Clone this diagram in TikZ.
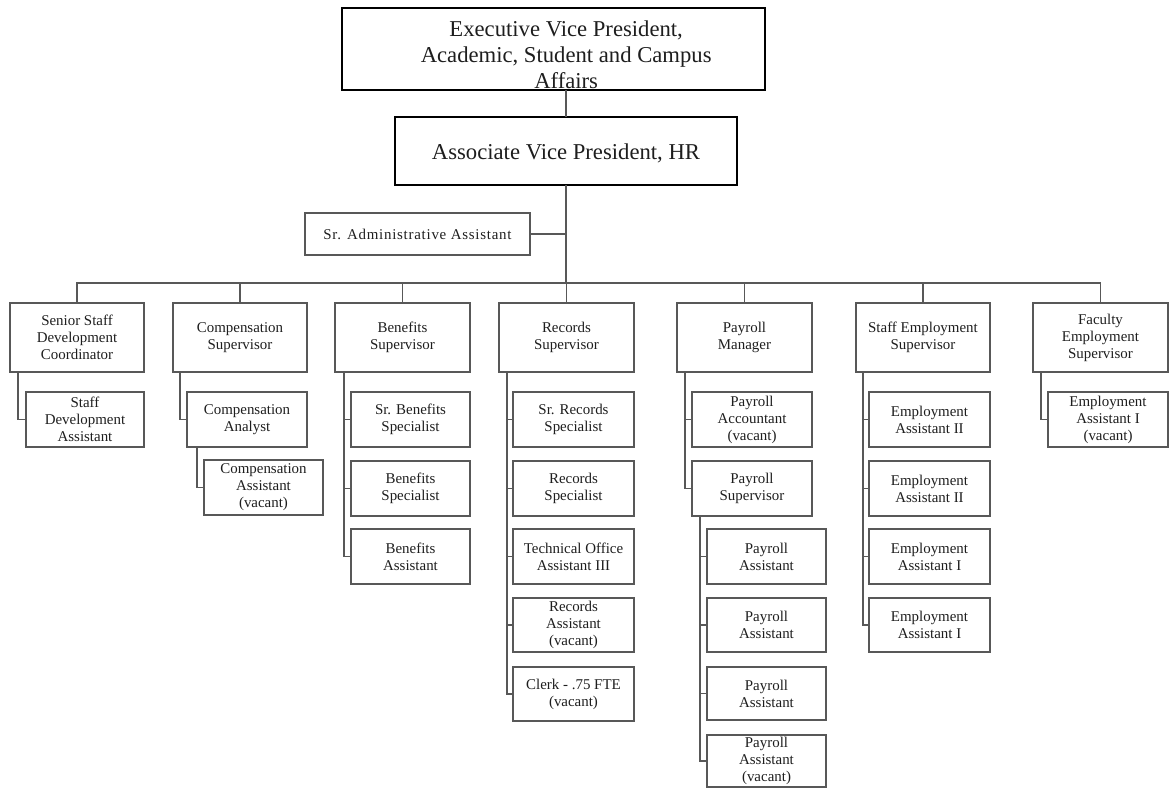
\documentclass[tikz,border=0pt]{standalone}
\usepackage{fontspec}
\setmainfont{Liberation Serif}
\usetikzlibrary{calc}
\definecolor{rulegray}{RGB}{88,88,88}
\definecolor{inkgray}{RGB}{30,30,30}
% a box given by its corners: style, x1, y1, x2, y2, name; the text follows
\newcommand\orgnode[6]{\node[#1, minimum width={(#4-#2)*0.75pt}, minimum height={(#5-#3)*0.75pt}] (#6) at ({(#2+#4)/2},{(#3+#5)/2})}
% one reporting line: parent, offset of the spine from the parent's left edge, children
\newcommand\feedline[3]{%
  \foreach \c in {#3} {\draw[link] ($(#1.south west)+(#2,0)$) |- (\c.west);}}
\begin{document}
\begin{tikzpicture}[x=0.75pt,y=-0.75pt,
  unit/.style={draw=rulegray, line width=0.9pt, inner sep=0pt, outer sep=0pt, align=center,
    text=inkgray, font=\fontsize{11.2}{12.75}\selectfont},
  head/.style={draw=black, line width=1.7pt, inner sep=0pt, outer sep=0pt, align=center,
    text=inkgray, font=\fontsize{17}{19.5}\selectfont},
  link/.style={draw=rulegray, line width=0.9pt}]
\fill[white] (0,0) rectangle (1171,788);
\useasboundingbox (0,0) rectangle (1171,788);

% top of the chart
\orgnode{head}{342}{8}{765}{90}{evp} {\rule{0pt}{21pt}\hspace*{19pt}Executive Vice President,\\\hspace*{19pt}Academic, Student and Campus\\\hspace*{19pt}Affairs};
\orgnode{head}{395}{117}{737}{185}{avp} {\rule{0pt}{15pt}Associate Vice President, HR};
\orgnode{unit, font=\fontsize{11.2}{12.75}\selectfont\addfontfeature{LetterSpace=5}}{305}{213}{530}{255}{admin} {Sr. Administrative Assistant};
\coordinate (bar) at (566,283);

% department heads
\orgnode{unit}{10}{303}{144}{372}{ssdc}     {Senior Staff\\Development\\Coordinator};
\orgnode{unit}{173}{303}{307}{372}{compsup} {Compensation\\Supervisor};
\orgnode{unit}{335}{303}{470}{372}{bensup}  {Benefits\\Supervisor};
\orgnode{unit}{499}{303}{634}{372}{recsup}  {Records\\Supervisor};
\orgnode{unit}{677}{303}{812}{372}{paymgr}  {Payroll\\Manager};
\orgnode{unit}{856}{303}{990}{372}{stemp}   {Staff Employment\\Supervisor};
\orgnode{unit}{1033}{303}{1168}{372}{facemp}{Faculty\\Employment\\Supervisor};

% staff
\orgnode{unit}{26}{392}{144}{447}{ssda}     {Staff\\Development\\Assistant};
\orgnode{unit}{187}{392}{307}{447}{compan}  {Compensation\\Analyst};
\orgnode{unit}{204}{460}{323}{515}{compasst}{Compensation\\Assistant\\(vacant)};
\orgnode{unit}{351}{392}{470}{447}{srben}   {Sr. Benefits\\Specialist};
\orgnode{unit}{351}{461}{470}{516}{benspec} {Benefits\\Specialist};
\orgnode{unit}{351}{529}{470}{584}{benasst} {Benefits\\Assistant};
\orgnode{unit}{513}{392}{634}{447}{srrec}   {Sr. Records\\Specialist};
\orgnode{unit}{513}{461}{634}{516}{recspec} {Records\\Specialist};
\orgnode{unit}{513}{529}{634}{584}{techoff} {Technical Office\\Assistant III};
\orgnode{unit}{513}{598}{634}{652}{recasst} {Records\\Assistant\\(vacant)};
\orgnode{unit}{513}{667}{634}{721}{clerk}   {Clerk - .75 FTE\\(vacant)};
\orgnode{unit}{692}{392}{812}{447}{payacct} {Payroll\\Accountant\\(vacant)};
\orgnode{unit}{692}{461}{812}{516}{paysup}  {Payroll\\Supervisor};
\orgnode{unit}{707}{529}{826}{584}{pa1}     {Payroll\\Assistant};
\orgnode{unit}{707}{598}{826}{652}{pa2}     {Payroll\\Assistant};
\orgnode{unit}{707}{667}{826}{720}{pa3}     {Payroll\\Assistant};
\orgnode{unit}{707}{735}{826}{787}{pa4}     {Payroll\\Assistant\\(vacant)};
\orgnode{unit}{869}{392}{990}{447}{ea1}     {Employment\\Assistant II};
\orgnode{unit}{869}{461}{990}{516}{ea2}     {Employment\\Assistant II};
\orgnode{unit}{869}{529}{990}{584}{ea3}     {Employment\\Assistant I};
\orgnode{unit}{869}{598}{990}{652}{ea4}     {Employment\\Assistant I};
\orgnode{unit}{1048}{392}{1168}{447}{feasst}{Employment\\Assistant I\\(vacant)};

% upper reporting lines
\draw[link] (avp.north) -- (avp.north |- evp.south);
\draw[link] (avp.south) -- (bar);
\draw[link] (admin.east) -- (admin.east -| avp.south);
\foreach \d in {ssdc,compsup,bensup,recsup,paymgr,stemp,facemp}
  {\draw[link] (\d.north) |- (bar);}

% reporting lines inside each department
\feedline{ssdc}{8}{ssda}
\feedline{compsup}{7}{compan}
\feedline{compan}{10}{compasst}
\feedline{bensup}{9}{srben,benspec,benasst}
\feedline{recsup}{8}{srrec,recspec,techoff,recasst,clerk}
\feedline{paymgr}{8}{payacct,paysup}
\feedline{paysup}{8}{pa1,pa2,pa3,pa4}
\feedline{stemp}{7}{ea1,ea2,ea3,ea4}
\feedline{facemp}{8}{feasst}
\end{tikzpicture}
\end{document}
